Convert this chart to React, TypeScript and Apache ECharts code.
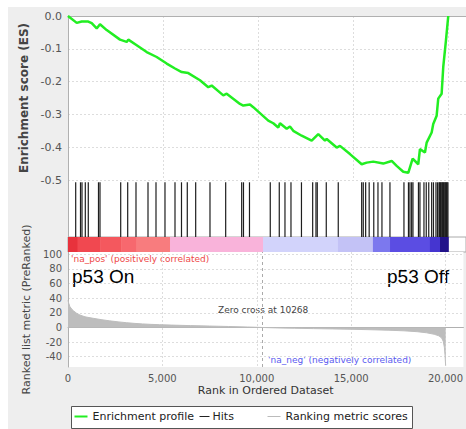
import React, { useEffect, useRef } from 'react';
import * as echarts from 'echarts';

// Enrichment profile (running ES)
const ES_RANKS = [0, 460, 721, 1068, 1247, 1511, 1684, 2037, 2737, 3089, 3174, 3616, 4142, 4668, 5195, 5632, 5984, 6332, 6947, 7384, 7563, 8174, 8353, 9053, 9226, 9579, 9753, 10542, 10805, 11068, 11158, 11511, 11684, 11858, 12300, 12826, 13174, 13526, 13616, 14142, 14316, 14842, 15458, 15721, 16068, 16595, 17037, 17300, 17647, 17911, 18142, 18437, 18526, 18789, 18879, 19142, 19226, 19405, 19489, 19668, 19753, 19895, 20016];
const ES_VALUES = [0, -0.021, -0.017, -0.017, -0.022, -0.038, -0.025, -0.043, -0.072, -0.079, -0.072, -0.089, -0.11, -0.125, -0.145, -0.16, -0.171, -0.174, -0.196, -0.217, -0.212, -0.242, -0.237, -0.268, -0.273, -0.27, -0.278, -0.319, -0.327, -0.34, -0.327, -0.344, -0.337, -0.35, -0.365, -0.38, -0.36, -0.38, -0.375, -0.401, -0.396, -0.421, -0.452, -0.447, -0.444, -0.45, -0.442, -0.457, -0.475, -0.478, -0.435, -0.452, -0.406, -0.416, -0.386, -0.355, -0.329, -0.304, -0.252, -0.237, -0.155, -0.074, 0];

// Gene-set hits (ranks)
const HIT_RANKS = [405, 658, 737, 911, 1068, 1605, 1684, 2774, 3142, 3579, 4211, 4632, 5105, 5632, 5974, 6279, 6721, 7474, 8300, 9142, 9237, 9553, 10647, 11121, 11421, 11737, 12289, 12879, 13053, 13121, 13595, 14226, 15458, 15542, 15668, 15853, 16095, 16316, 16526, 16947, 17684, 17921, 18000, 18089, 18158, 18447, 18526, 18737, 18858, 18989, 19142, 19237, 19368, 19447, 19526, 19560, 19605, 19640, 19684, 19720, 19763, 19800, 19842, 19880, 19921, 19960, 20000];

// Colour band of the ranked list
const BAND_STARTS = [0, 500, 1700, 2800, 3600, 5370, 10268, 14210, 16050, 16950, 19050, 19580];
const BAND_ENDS = [500, 1700, 2800, 3600, 5370, 10268, 14210, 16050, 16950, 19050, 19580, 20020];
const BAND_COLORS = ['#e8323c', '#f14850', '#f4585e', '#f7686e', '#f87c7e', '#f9b3da', '#d2d3fb', '#c3c2f6', '#7c78ee', '#5b4de3', '#4535d0', '#22128a'];

// Ranked list metric
const METRIC_RANKS = [0, 40, 100, 200, 300, 450, 630, 900, 1330, 1800, 2210, 2700, 3090, 3500, 3950, 4400, 4840, 5500, 6500, 7500, 8500, 9500, 10268, 11000, 12000, 13000, 14000, 15000, 16000, 17000, 17800, 18500, 19000, 19400, 19650, 19800, 19880, 19940, 19975, 19995, 20010];
const METRIC_VALUES = [37, 33, 28.5, 25, 22.5, 19.5, 17, 14.5, 12.5, 10.5, 9, 7.5, 6.5, 5.6, 4.8, 4.2, 3.8, 3.2, 2.5, 1.9, 1.3, 0.6, 0, -0.6, -1.1, -1.6, -2.0, -2.5, -3.1, -3.8, -4.6, -5.8, -7.3, -9.3, -11.5, -14.5, -19, -27, -38, -47, -52];

const X_TICKS = [0, 5000, 10000, 15000, 20000];
const METRIC_TICKS = [-40, -20, 0, 20, 40, 60, 80, 100];
const ZERO_CROSS = 10268;

const FONT = 'DejaVu Sans';
const X_MAX = 20950;

export default function App() {
  const ref = useRef<HTMLDivElement>(null);

  useEffect(() => {
    if (!ref.current) return;
    const chart = echarts.init(ref.current, undefined, { renderer: 'svg' });

    const splitDashed = { show: true, lineStyle: { color: '#dddddd', type: [2, 2] as any, width: 1 } };
    const axisLineGray = { show: true, lineStyle: { color: '#b0b0b0', width: 1 } };

    const grids = [
      { left: 68, right: -1, top: 16, height: 164 },
      { left: 68, right: -1, top: 180, height: 57 },
      { left: 68, right: -1, top: 237, height: 15 },
      { left: 68, right: -1, top: 252, height: 115 },
    ].map((g, i) => ({
      ...g,
      show: true,
      backgroundColor: '#ffffff',
      borderColor: '#aaaaaa',
      borderWidth: i === 2 ? 1 : 0,
    }));

    const option: any = {
      animation: false,
      textStyle: { fontFamily: FONT },
      grid: grids,
      xAxis: [
        {
          gridIndex: 0, type: 'value', min: 0, max: X_MAX, position: 'top',
          axisLine: axisLineGray, axisTick: { show: false, customValues: X_TICKS },
          axisLabel: { show: false, customValues: X_TICKS }, splitLine: splitDashed,
        },
        { gridIndex: 1, type: 'value', min: 0, max: X_MAX, show: false },
        { gridIndex: 2, type: 'value', min: 0, max: X_MAX, show: false },
        {
          gridIndex: 3, type: 'value', min: 0, max: X_MAX, position: 'bottom',
          axisLine: axisLineGray, axisTick: { show: false, customValues: X_TICKS },
          axisLabel: {
            customValues: X_TICKS, margin: 6, fontSize: 10, color: '#555', fontFamily: FONT,
            formatter: (v: number) => v.toLocaleString('en-US'),
          },
          splitLine: splitDashed,
          name: 'Rank in Ordered Dataset', nameLocation: 'middle', nameGap: 18,
          nameTextStyle: { fontSize: 11, color: '#333', fontFamily: FONT },
        },
      ],
      yAxis: [
        {
          gridIndex: 0, type: 'value', min: -0.5, max: 0, interval: 0.1,
          axisLine: axisLineGray, axisTick: { show: false },
          axisLabel: { fontSize: 11, color: '#555', margin: 6, fontFamily: FONT, formatter: (v: number) => v.toFixed(1) },
          splitLine: splitDashed,
          name: 'Enrichment score (ES)', nameLocation: 'middle', nameGap: 33,
          nameTextStyle: { fontSize: 12, fontWeight: 'bold', color: '#444', fontFamily: FONT },
        },
        {
          gridIndex: 1, type: 'value', min: 0, max: 1,
          axisLine: axisLineGray, axisTick: { show: false }, axisLabel: { show: false }, splitLine: { show: false },
        },
        { gridIndex: 2, type: 'value', min: 0, max: 1, show: false },
        {
          gridIndex: 3, type: 'value', min: -54, max: 103,
          axisLine: axisLineGray, axisTick: { show: false, customValues: METRIC_TICKS },
          axisLabel: { customValues: METRIC_TICKS, fontSize: 10, color: '#555', margin: 6, fontFamily: FONT },
          splitLine: splitDashed,
          name: 'Ranked list metric (PreRanked)', nameLocation: 'middle', nameGap: 27,
          nameTextStyle: { fontSize: 11, color: '#444', fontFamily: FONT },
        },
      ],
      series: [
        {
          type: 'line', name: 'Enrichment profile', xAxisIndex: 0, yAxisIndex: 0,
          data: ES_RANKS.map((r, i) => [r, ES_VALUES[i]]),
          showSymbol: false, lineStyle: { color: '#22ee22', width: 2.5 }, z: 5,
        },
        {
          type: 'custom', name: 'Hits', xAxisIndex: 1, yAxisIndex: 1,
          data: HIT_RANKS.map((r) => [r]),
          encode: { x: 0 },
          renderItem: (_p: any, api: any) => {
            const x = api.value(0);
            const a = api.coord([x, 0]);
            const b = api.coord([x, 0.96]);
            return {
              type: 'line',
              shape: { x1: a[0], y1: a[1], x2: b[0], y2: b[1] },
              style: { stroke: '#1e1e1e', lineWidth: 1.2 },
            };
          },
        },
        {
          type: 'custom', name: 'Band', xAxisIndex: 2, yAxisIndex: 2,
          data: BAND_STARTS.map((s, i) => [s, BAND_ENDS[i]]),
          encode: { x: [0, 1] },
          renderItem: (p: any, api: any) => {
            const a = api.coord([api.value(0), 1]);
            const b = api.coord([api.value(1), 0]);
            return {
              type: 'rect',
              shape: { x: a[0], y: a[1], width: b[0] - a[0] + 0.5, height: b[1] - a[1] },
              style: { fill: BAND_COLORS[p.dataIndex] },
            };
          },
        },
        {
          type: 'line', name: 'Ranking metric scores', xAxisIndex: 3, yAxisIndex: 3,
          data: METRIC_RANKS.map((r, i) => [r, METRIC_VALUES[i]]),
          showSymbol: false,
          lineStyle: { color: '#bdbdbd', width: 1 },
          areaStyle: { color: '#bdbdbd', opacity: 1 },
          markLine: {
            silent: true, symbol: 'none', label: { show: false },
            lineStyle: { color: '#aaaaaa', type: [3, 3], width: 1 },
            data: [{ xAxis: ZERO_CROSS }],
          },
        },
      ],
      graphic: [
        { type: 'text', left: 71, top: 254, style: { text: "'na_pos' (positively correlated)", fill: '#ee4848', font: `9px '${FONT}'` } },
        { type: 'text', left: 268, top: 355, style: { text: "'na_neg' (negatively correlated)", fill: '#5a5af0', font: `9px '${FONT}'` } },
        { type: 'text', left: 218, top: 305, style: { text: 'Zero cross at ' + ZERO_CROSS, fill: '#444', font: `9px '${FONT}'` } },
        { type: 'text', left: 72, top: 267, style: { text: 'p53 On', fill: '#000', font: "19px 'Liberation Sans'" } },
        { type: 'text', right: 17, top: 267, style: { text: 'p53 Off', fill: '#000', font: "19px 'Liberation Sans'" } },
        {
          type: 'group', left: 71, top: 406,
          children: [
            { type: 'rect', shape: { x: 0, y: 0, width: 341, height: 22 }, style: { fill: '#fff', stroke: '#555', lineWidth: 1 } },
            { type: 'line', shape: { x1: 3, y1: 10, x2: 16, y2: 10 }, style: { stroke: '#22ee22', lineWidth: 2 } },
            { type: 'text', x: 21, y: 10, style: { text: 'Enrichment profile', fill: '#222', font: `11px '${FONT}'`, verticalAlign: 'middle' } },
            { type: 'line', shape: { x1: 128, y1: 10, x2: 138, y2: 10 }, style: { stroke: '#222', lineWidth: 1 } },
            { type: 'text', x: 141, y: 10, style: { text: 'Hits', fill: '#222', font: `11px '${FONT}'`, verticalAlign: 'middle' } },
            { type: 'line', shape: { x1: 196, y1: 10, x2: 209, y2: 10 }, style: { stroke: '#bbbbbb', lineWidth: 1 } },
            { type: 'text', x: 214, y: 10, style: { text: 'Ranking metric scores', fill: '#222', font: `11px '${FONT}'`, verticalAlign: 'middle' } },
          ],
        },
      ],
    };

    chart.setOption(option);
    return () => chart.dispose();
  }, []);

  return (
    <div style={{ position: 'fixed', left: 0, top: 0, width: 466, height: 429, background: '#ffffff', overflow: 'hidden' }}>
      <div style={{ position: 'absolute', left: 8, top: 7, right: 0, bottom: 0, background: '#eeeeee' }} />
      <div ref={ref} style={{ position: 'absolute', left: 0, top: 0, width: 466, height: 429 }} />
    </div>
  );
}
